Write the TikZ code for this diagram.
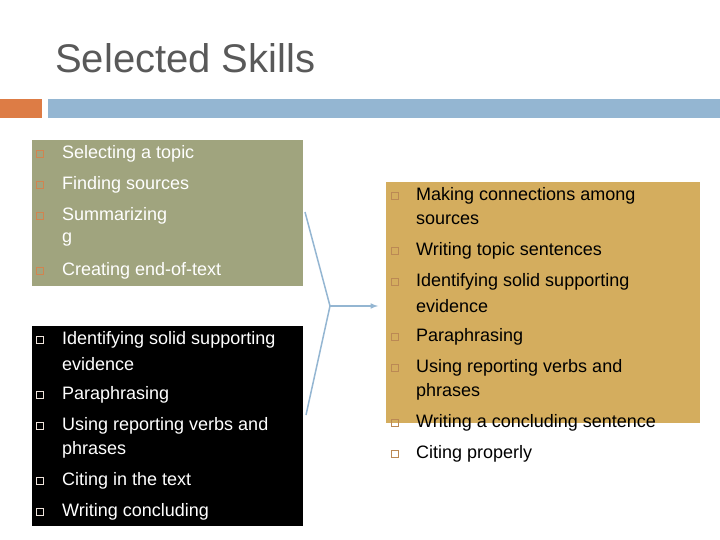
\documentclass[tikz,border=0pt]{standalone}
\usepackage{fontspec}
\setmainfont{Liberation Sans}
\definecolor{olive}{HTML}{A0A47E}
\definecolor{gold}{HTML}{D4AD5E}
\definecolor{orng}{HTML}{DD7C45}
\definecolor{bluebar}{HTML}{94B6D2}
\definecolor{arrowc}{HTML}{94B6D2}
\definecolor{bulc}{HTML}{B07A50}
\begin{document}
\begin{tikzpicture}[x=1pt,y=-1pt,
  txt/.style={anchor=west,inner sep=0pt,font=\fontsize{18}{20}\selectfont},
  bul/.style={draw=bulc,line width=0.6pt,minimum size=7pt,inner sep=0pt}]
\useasboundingbox (0,0) rectangle (720,540);
\fill[white] (0,0) rectangle (720,540);
\node[anchor=west,inner sep=0pt,text=black!65,font=\fontsize{40}{44}\selectfont] (title) at (55,58) {Selected Skills};
\fill[orng] (0,99) rectangle (42,118);
\fill[bluebar] (48,99) rectangle (720,118);
\fill[olive] (32,140) rectangle (303,286);
\fill[black] (32,326) rectangle (303,526);
\fill[gold] (386,182) rectangle (700,423);
% left green
\foreach \y/\t [count=\i] in {154/Selecting a topic,185/Finding sources,216/Summarizing/Paraphrasin,240/g,271/Creating end-of-text}
  \node[txt,text=white] (g\i) at (62,\y) {\t};
\foreach \y [count=\i] in {154,185,216,271} \node[bul,draw=orng!80!olive] (gb\i) at (40,\y) {};
% black
\foreach \y/\t [count=\i] in {340/Identifying solid supporting,364/evidence,395/Paraphrasing,426/Using reporting verbs and,450/phrases,481/Citing in the text,512/Writing concluding}
  \node[txt,text=white] (k\i) at (62,\y) {\t};
\foreach \y [count=\i] in {340,395,426,481,512} \node[bul,draw=white!80!bulc] (kb\i) at (40,\y) {};
% right
\foreach \y/\t [count=\i] in {196/Making connections among,220/sources,251/Writing topic sentences,282/Identifying solid supporting,306/evidence,337/Paraphrasing,368/Using reporting verbs and,392/phrases,423/Writing a concluding sentence,454/Citing properly}
  \node[txt,text=black] (r\i) at (416,\y) {\t};
\foreach \y [count=\i] in {196,251,282,337,368,423,454} \node[bul,draw=bulc!70!gold] (rb\i) at (395,\y) {};
% arrow
\coordinate (a1) at (305,212);
\coordinate (a2) at (330,306);
\coordinate (a3) at (306,415);
\coordinate (a4) at (378,306);
\draw[arrowc,line width=1.5pt] (a1) -- (a2) -- (a3);
\draw[arrowc,line width=1.5pt,-latex] (a2) -- (a4);
\end{tikzpicture}
\end{document}
